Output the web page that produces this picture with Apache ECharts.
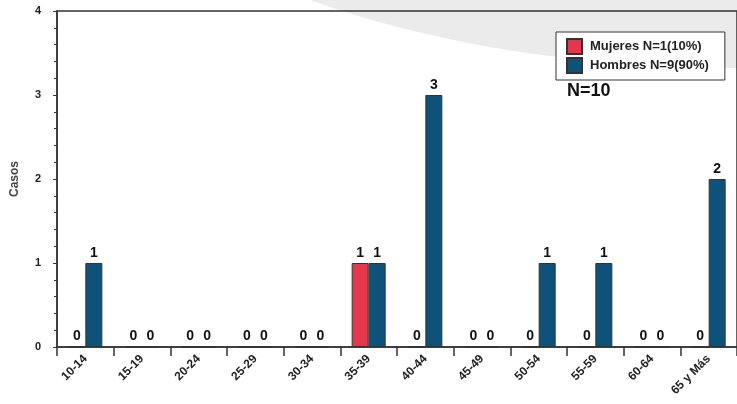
<!DOCTYPE html>
<html>
<head>
<meta charset="utf-8">
<script src="https://cdn.jsdelivr.net/npm/echarts@6/dist/echarts.min.js"></script>
<style>html,body{margin:0;padding:0;background:#fff}#c{width:737px;height:404px}</style>
</head>
<body>
<div id="c"></div>
<script>
const categories = ['10-14','15-19','20-24','25-29','30-34','35-39','40-44','45-49','50-54','55-59','60-64','65 y Más'];
const mujeres = [0,0,0,0,0,1,0,0,0,0,0,0];
const hombres = [1,0,0,0,0,1,3,0,1,1,0,2];
const seriesNames = ['Mujeres N=1(10%)','Hombres N=9(90%)'];
const yTicks = [0,1,2,3,4];
const totalLabel = 'N=10';

const font = 'Liberation Sans, Arial, sans-serif';
const chart = echarts.init(document.getElementById('c'), null, {renderer:'canvas'});
const lbl = {show:true, position:'top', distance:3, color:'#111', fontWeight:'bold', fontSize:14, fontFamily:font};
chart.setOption({
  animation:false,
  backgroundColor:'#fff',
  graphic:[
    {type:'circle', z:-10, silent:true, x:737, y:-232, scaleX:1, scaleY:300/673,
     shape:{cx:0, cy:0, r:673}, style:{fill:'#ebebeb'}},
    {type:'text', left:567, top:82, z:10, style:{text:totalLabel, font:'bold 18px '+font, fill:'#111'}}
  ],
  grid:{left:57, top:11, width:682, bottom:57, show:true, borderColor:'#333', borderWidth:1.5, backgroundColor:'transparent'},
  legend:{
    left:556, top:32, orient:'vertical', icon:'rect', itemWidth:15, itemHeight:15, itemGap:2,
    padding:[6,16,6,10], backgroundColor:'#fff', borderColor:'#333', borderWidth:1,
    textStyle:{fontWeight:'bold', fontSize:13, color:'#222', fontFamily:font, padding:[0,0,0,3]},
    data:seriesNames
  },
  xAxis:{
    type:'category', data:categories,
    axisLine:{lineStyle:{color:'#333', width:1.5}},
    axisTick:{show:true, alignWithLabel:false, length:9, lineStyle:{color:'#333', width:1.5}},
    axisLabel:{rotate:45, margin:10, fontWeight:'bold', fontSize:12, color:'#222', fontFamily:font, interval:0}
  },
  yAxis:{
    type:'value', min:yTicks[0], max:yTicks[yTicks.length-1], interval:1,
    name:'Casos', nameLocation:'middle', nameGap:36,
    nameTextStyle:{fontWeight:'bold', fontSize:12, color:'#444', fontFamily:font},
    axisLine:{show:true, lineStyle:{color:'#333', width:1.5}},
    axisTick:{show:true, length:4, lineStyle:{color:'#333'}},
    minorTick:{show:true, splitNumber:5, length:3, lineStyle:{color:'#333'}},
    splitLine:{show:false},
    axisLabel:{margin:16, fontWeight:'bold', fontSize:11, color:'#222', fontFamily:font}
  },
  series:[
    {name:seriesNames[0], type:'bar', data:mujeres, barWidth:17, barGap:'0%',
     itemStyle:{color:'#e5364b', borderColor:'#333', borderWidth:1}, label:lbl},
    {name:seriesNames[1], type:'bar', data:hombres, barWidth:17, barGap:'0%',
     itemStyle:{color:'#0f5279', borderColor:'#333', borderWidth:1}, label:lbl}
  ]
});
</script>
</body>
</html>
